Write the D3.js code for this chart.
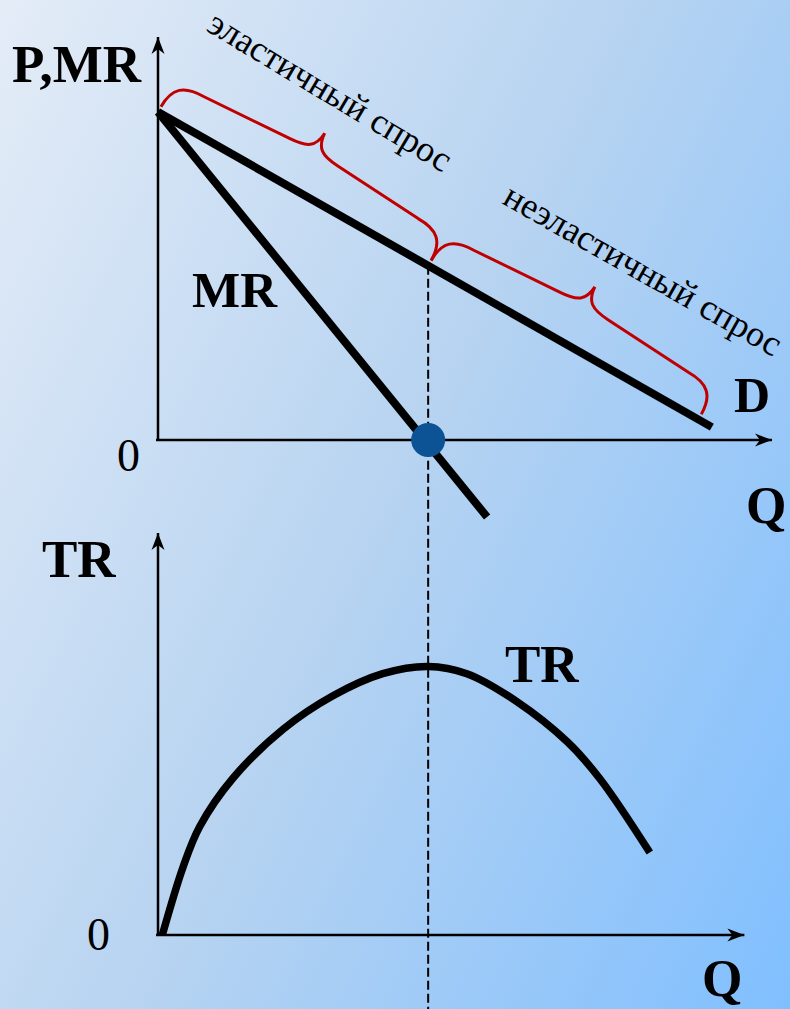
<!DOCTYPE html>
<html>
<head>
<meta charset="utf-8">
<script src="https://cdn.jsdelivr.net/npm/d3@7"></script>
<style>
    html, body { margin: 0; padding: 0; overflow: hidden; }
    svg { display: block; }
</style>
</head>
<body>
<div id="chart"></div>
<script>
const width = 790, height = 1009;

// demand line D and marginal revenue MR, as (Q, P)
const demandQ = [0, 90.2];
const demandP = [81.4, 3.2];
const mrQ = [0, 53.6];
const mrP = [81.4, -19.1];

// total revenue curve TR
const trQ = [0.7, 4.1, 6.8, 12.2, 20.4, 28.5, 36.6, 44, 50.3, 58.5, 66.7, 72, 80.1];
const trValues = [0, 17, 27, 39, 51.2, 59.5, 65, 66.8, 65, 58, 48, 38.8, 20.5];

// Q where MR = 0 (unit elasticity, max TR)
const unitQ = 44;

// brace ranges along D
const braceFrom = [0, 44];
const braceTo = [44, 88];
const braceLabels = ['эластичный спрос', 'неэластичный спрос'];

const serif = '"Liberation Serif", "Times New Roman", serif';

// scales
const x = d3.scaleLinear().domain([0, 100]).range([158, 772]);
const yTop = d3.scaleLinear().domain([0, 100]).range([440, 37]);
const yBot = d3.scaleLinear().domain([0, 100]).range([935, 533]);

const svg = d3.select('#chart').append('svg')
    .attr('width', width)
    .attr('height', height);

// background gradient
const defs = svg.append('defs');
const grad = defs.append('linearGradient')
    .attr('id', 'bg')
    .attr('gradientUnits', 'userSpaceOnUse')
    .attr('x1', 0).attr('y1', 0)
    .attr('x2', 1035).attr('y2', 507);
grad.append('stop').attr('offset', 0).attr('stop-color', '#e4ecf7');
grad.append('stop').attr('offset', 0.5).attr('stop-color', '#b6d3f1');
grad.append('stop').attr('offset', 1).attr('stop-color', '#80bfff');
svg.append('rect')
    .attr('width', width)
    .attr('height', height)
    .attr('fill', 'url(#bg)');

// axis with arrow head
function arrowAxis(x1, y1, x2, y2) {
    const g = svg.append('g').classed('axis', true);
    g.append('line')
        .attr('x1', x1).attr('y1', y1)
        .attr('x2', x2).attr('y2', y2)
        .attr('stroke', '#000')
        .attr('stroke-width', 2.5);
    const a = Math.atan2(y2 - y1, x2 - x1);
    const len = 17, half = 6.5, notch = 12;
    const pt = (l, w) => [x2 - l * Math.cos(a) - w * Math.sin(a), y2 - l * Math.sin(a) + w * Math.cos(a)];
    g.append('path')
        .attr('d', 'M' + [x2, y2] + 'L' + pt(len, half) + 'L' + pt(notch, 0) + 'L' + pt(len, -half) + 'Z')
        .attr('fill', '#000');
}

arrowAxis(x(0), yTop(0), x(0), yTop(100));
arrowAxis(x(0) - 2, yTop(0), x(100), yTop(0));
arrowAxis(x(0), yBot(0), x(0), yBot(100));
arrowAxis(x(0) - 2, yBot(0), x(95.5), yBot(0));

// dashed guide at unit elasticity
const demandAt = q => demandP[0] + (demandP[1] - demandP[0]) * (q - demandQ[0]) / (demandQ[1] - demandQ[0]);
svg.append('line')
    .attr('x1', x(unitQ)).attr('x2', x(unitQ))
    .attr('y1', yTop(demandAt(unitQ)))
    .attr('y2', height)
    .attr('stroke', '#000')
    .attr('stroke-width', 2)
    .attr('stroke-dasharray', '9,4');

// braces above D
const dx = x(demandQ[1]) - x(demandQ[0]);
const dy = yTop(demandP[1]) - yTop(demandP[0]);
const dl = Math.hypot(dx, dy);
const ux = dx / dl, uy = dy / dl;   // along D
const nx = uy, ny = -ux;            // normal, away from origin

function bracePath(q0, q1) {
    const p0 = [x(q0), yTop(demandAt(q0))];
    const p1 = [x(q1), yTop(demandAt(q1))];
    const L = Math.hypot(p1[0] - p0[0], p1[1] - p0[1]);
    const m = L / 2;
    const sh = 36, tip = 64;
    const P = (u, v) => [p0[0] + u * ux + v * nx, p0[1] + u * uy + v * ny];
    return 'M' + P(0, 6) +
        'C' + P(0, 28) + ' ' + P(10, sh) + ' ' + P(32, sh) +
        'L' + P(m - 28, sh + 6) +
        'C' + P(m - 8, sh + 7) + ' ' + P(m - 1, sh + 12) + ' ' + P(m, tip) +
        'C' + P(m + 1, sh + 12) + ' ' + P(m + 8, sh + 7) + ' ' + P(m + 28, sh + 6) +
        'L' + P(L - 32, sh) +
        'C' + P(L - 10, sh) + ' ' + P(L, 28) + ' ' + P(L, 6);
}

svg.selectAll('path.brace')
    .data(braceFrom)
    .join('path')
    .classed('brace', true)
    .attr('d', (d, i) => bracePath(d, braceTo[i]))
    .attr('fill', 'none')
    .attr('stroke', '#c00000')
    .attr('stroke-width', 3);

// D and MR
const line = d3.line().x(d => x(d[0])).y(d => yTop(d[1]));
svg.append('path')
    .attr('d', line(demandQ.map((q, i) => [q, demandP[i]])))
    .attr('stroke', '#000')
    .attr('stroke-width', 8)
    .attr('fill', 'none');
svg.append('path')
    .attr('d', line(mrQ.map((q, i) => [q, mrP[i]])))
    .attr('stroke', '#000')
    .attr('stroke-width', 8)
    .attr('fill', 'none');

// point where MR crosses zero
svg.append('circle')
    .attr('cx', x(unitQ))
    .attr('cy', yTop(0))
    .attr('r', 17)
    .attr('fill', '#0b5394');

// TR curve
const trLine = d3.line()
    .x(d => x(d[0]))
    .y(d => yBot(d[1]))
    .curve(d3.curveCatmullRom.alpha(0.5));
svg.append('path')
    .attr('d', trLine(trQ.map((q, i) => [q, trValues[i]])))
    .attr('stroke', '#000')
    .attr('stroke-width', 7.5)
    .attr('fill', 'none');

// labels
function label(text, px, py, size, bold) {
    return svg.append('text')
        .attr('x', px).attr('y', py)
        .attr('font-family', serif)
        .attr('font-size', size)
        .attr('font-weight', bold ? 'bold' : 'normal')
        .attr('fill', '#000')
        .text(text);
}

label('P,MR', 12, 82, 53, true);
label('MR', 192, 307, 51, true);
label('D', 734, 412, 50, true);
label('0', 117, 471, 46, false);
label('Q', 746, 523, 52, true);
label('TR', 42, 577, 53, true);
label('TR', 505, 682, 53, true);
label('0', 87, 950, 46, false);
label('Q', 702, 996, 52, true);

// rotated brace captions
const capStart = [[205, 30], [501, 203]];
const capAngle = [31, 29.5];
svg.selectAll('text.caption')
    .data(braceLabels)
    .join('text')
    .classed('caption', true)
    .attr('transform', (d, i) => `translate(${capStart[i]}) rotate(${capAngle[i]})`)
    .attr('font-family', serif)
    .attr('font-size', 36)
    .attr('fill', '#000')
    .text(d => d);
</script>
</body>
</html>
